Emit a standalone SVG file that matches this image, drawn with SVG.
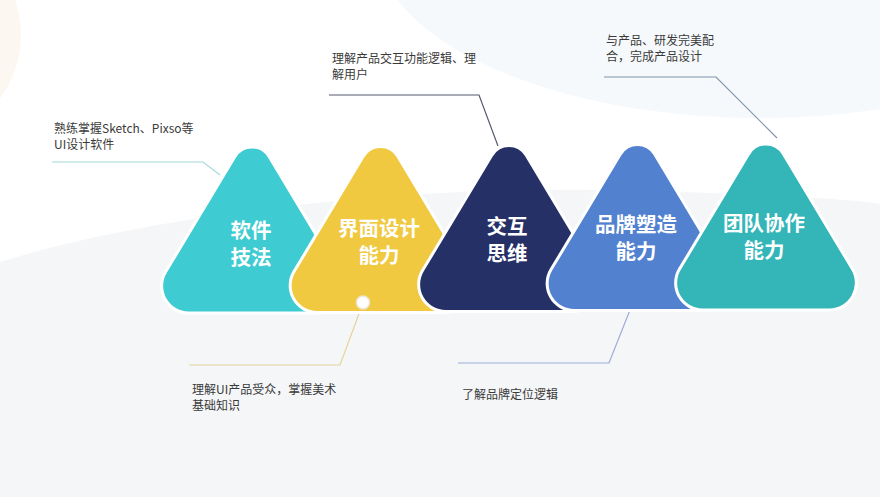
<svg xmlns="http://www.w3.org/2000/svg" width="886" height="500" viewBox="0 0 886 500">
  <style>
    .note { font-family: "Noto Sans CJK SC", "Liberation Sans", sans-serif; font-size: 12px; fill: #3a3a3a; }
    .label { font-family: "Noto Sans CJK SC", "Liberation Sans", sans-serif; font-size: 20.5px; font-weight: 700; fill: #ffffff; text-anchor: middle; }
    .shape { stroke: #ffffff; stroke-width: 3; stroke-linejoin: round; }
    .conn { fill: none; stroke-width: 1.2; }
  </style>
  <defs>
    <path id="tri" d="M -17.1,155.6 L -86.5,271.1 A 27,27 0 0 0 -63.3,312 L 63.3,312 A 27,27 0 0 0 86.5,271.1 L 17.1,155.6 A 20,20 0 0 0 -17.1,155.6 Z"/>
    <clipPath id="frame"><rect x="0" y="0" width="880" height="497"/></clipPath>
  </defs>
  <rect x="0" y="0" width="886" height="500" fill="#ffffff"/>
  <g id="background" clip-path="url(#frame)">
    <ellipse cx="760" cy="-60" rx="385" ry="178" fill="#f5f9fb"/>
    <circle cx="-85" cy="35" r="106" fill="#fdf7f2"/>
    <path d="M 0,262 C 150,215 400,186 600,190 C 750,193 850,199 880,204 L 880,497 L 0,497 Z" fill="#f4f6f8"/>
  </g>
  <g id="connectors">
    <polyline class="conn" stroke="#a6dade" points="52,162 203,162 220,175"/>
    <polyline class="conn" stroke="#555b6e" points="329,95 479,95 498,146"/>
    <polyline class="conn" stroke="#8093ad" points="604,77 716,77 777,138"/>
    <polyline class="conn" stroke="#e6d39a" points="363,303 340,365 189,365"/>
    <polyline class="conn" stroke="#9eabd8" points="630,310 609,363 458,363"/>
  </g>
  <g id="node-software">
    <use href="#tri" class="shape" fill="#3ecbd1" transform="translate(252,1)"/>
    <text class="label" x="251" y="238">软件</text>
    <text class="label" x="251" y="265">技法</text>
  </g>
  <g id="node-ui">
    <use href="#tri" class="shape" fill="#f0c940" transform="translate(380.5,0.5)"/>
    <text class="label" x="379" y="236">界面设计</text>
    <text class="label" x="379" y="263">能力</text>
  </g>
  <g id="node-interaction">
    <use href="#tri" class="shape" fill="#243066" transform="translate(509,-0.5)"/>
    <text class="label" x="507" y="234">交互</text>
    <text class="label" x="507" y="261">思维</text>
  </g>
  <g id="node-brand">
    <use href="#tri" class="shape" fill="#5281cf" transform="translate(637.5,-1.5)"/>
    <text class="label" x="636" y="232">品牌塑造</text>
    <text class="label" x="636" y="259">能力</text>
  </g>
  <g id="node-team">
    <use href="#tri" class="shape" fill="#34b5b8" transform="translate(766,-2)"/>
    <text class="label" x="764" y="231">团队协作</text>
    <text class="label" x="764" y="258">能力</text>
  </g>
  <g id="marker-dot">
    <circle cx="363" cy="302.5" r="6.5" fill="#ffffff" stroke="#ece6d2" stroke-width="1.5"/>
  </g>
  <g id="note-software">
    <text class="note" x="54" y="133">熟练掌握Sketch、Pixso等</text>
    <text class="note" x="54" y="149">UI设计软件</text>
  </g>
  <g id="note-interaction">
    <text class="note" x="332" y="63">理解产品交互功能逻辑、理</text>
    <text class="note" x="332" y="79">解用户</text>
  </g>
  <g id="note-team">
    <text class="note" x="606" y="45">与产品、研发完美配</text>
    <text class="note" x="606" y="61">合，完成产品设计</text>
  </g>
  <g id="note-ui">
    <text class="note" x="192" y="394">理解UI产品受众，掌握美术</text>
    <text class="note" x="192" y="410">基础知识</text>
  </g>
  <g id="note-brand">
    <text class="note" x="462" y="399">了解品牌定位逻辑</text>
  </g>
</svg>
